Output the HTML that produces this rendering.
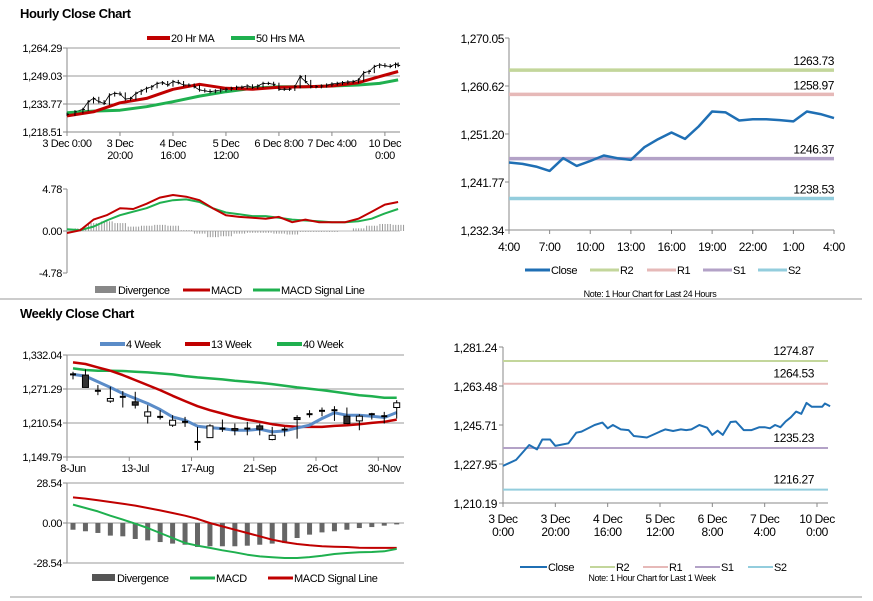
<!DOCTYPE html>
<html><head><meta charset="utf-8">
<style>
body{margin:0;background:#fff;width:873px;height:601px;overflow:hidden;font-family:"Liberation Sans",Arial,sans-serif}
svg{position:absolute;left:0;top:0}
text{font-family:"Liberation Sans",Arial,sans-serif;fill:#000;letter-spacing:-0.4px}
</style></head>
<body>
<svg id="c" width="873" height="601" viewBox="0 0 873 601"></svg>
<script>
// ---------- DATA ----------
const hcHours=[0,3,6,8,10,12,14,16,18,20,22,24,26,28,30,32,34,36,38,40,42,44,46,48,50,52,54,56,58,60,62,64,66,68,70,72,74,76,78,80,82,84,86,88,90,92,94,96,98,100,102,104,106,108,110,112,114,116,118,120,122,124,125];
const hcClose=[1228.2,1229.5,1230.8,1235,1236.8,1235,1234.1,1238.7,1239.6,1239.2,1236.5,1236.8,1239.6,1240.9,1242.3,1243.2,1245,1245.4,1244.1,1246,1245.4,1244.1,1244.1,1243.2,1241.4,1240.9,1240.5,1240.9,1241.4,1241.8,1242.3,1242.9,1242.9,1243.6,1242.9,1243.6,1245,1245,1244.5,1241.8,1241.8,1241.8,1243.2,1248.7,1246,1243.2,1243.2,1243.6,1244.1,1244.7,1245,1245.4,1245.8,1246,1246.9,1250.9,1251.5,1254.2,1255.1,1254.6,1254.2,1255.5,1254.8];
const maHours=[0,10,20,30,40,50,60,70,80,90,100,110,118,125];
const ma20=[1227.3,1229.5,1234.4,1236.8,1241.8,1244.5,1242.3,1241.8,1242.9,1243.2,1243.6,1245.4,1248.7,1251.5];
const ma50=[1229,1229.9,1230.4,1232.3,1235,1238.1,1240.5,1242.3,1243.2,1243.2,1243.6,1244.1,1245,1246.9];
const hTickLabels=[["3 Dec 0:00"],["3 Dec","20:00"],["4 Dec","16:00"],["5 Dec","12:00"],["6 Dec 8:00"],["7 Dec 4:00"],["10 Dec","0:00"]];
const hTickHours=[0,20,40,60,80,100,120];
const macdHours=[0,5,10,15,20,25,30,35,40,45,50,55,60,65,70,75,80,85,90,95,100,105,110,115,120,125];
const hMacd=[-0.23,0.08,1.3,1.8,2.6,2.5,3.1,3.8,4.1,3.9,3.5,2.6,1.8,1.6,1.5,1.4,1.6,1.0,1.3,1.0,1.0,1.0,1.4,2.2,3.0,3.3];
const hSignal=[0.2,0.1,0.5,1.2,1.8,2.2,2.6,3.2,3.5,3.6,3.3,2.6,2.1,1.9,1.7,1.7,1.5,1.3,1.2,1.1,1.0,1.0,1.1,1.4,2.0,2.5];
const hDiv=[0,0.3,0.9,1.1,0.9,0.5,0.6,0.7,0.6,0.1,-0.3,-0.7,-0.6,-0.3,-0.2,-0.2,-0.3,-0.4,-0.1,-0.1,-0.1,0,0.3,0.6,0.8,0.7];
const wLabels=["8-Jun","13-Jul","17-Aug","21-Sep","26-Oct","30-Nov"];
const wLabelIdx=[0,5,10,15,20,25];
const wOpen=[1297.4,1296.2,1268.1,1249.6,1257.3,1248.4,1222.7,1221.5,1206.6,1212.6,1176.7,1184.4,1200.6,1200.6,1200.6,1205.4,1181,1198.8,1220.3,1226.3,1232.3,1233.4,1222.7,1214.3,1226.3,1222.7,1238.2];
const wClose=[1297.4,1274.1,1268.1,1254.3,1257.3,1242.4,1230.4,1221.5,1215.5,1212.6,1176.7,1205.4,1200.6,1197.6,1200.6,1199.4,1188.6,1198.8,1216.7,1226.3,1232.3,1233.4,1209.5,1222.7,1226.3,1222.7,1246.6];
const wHigh=[1302.2,1306.4,1278.3,1275.3,1267.5,1266.3,1242.4,1233.4,1224.5,1221.5,1203.6,1208.4,1216.7,1209.5,1212.6,1209.5,1203.6,1203.6,1224.5,1233.4,1238.2,1240.6,1238.2,1226.3,1228.7,1230.4,1251.4];
const wLow=[1288.4,1274.1,1260.3,1246.6,1238.2,1236.4,1209.5,1216.7,1203.6,1203.6,1161.8,1184.4,1194.6,1188.6,1188.6,1188.6,1179.6,1186.8,1182.6,1220.3,1222.7,1214.3,1209.5,1197.6,1216.7,1209.5,1218.5];
const wMA4=[1297.4,1294.4,1284.2,1274.1,1263.3,1254.3,1245.4,1234.6,1221.5,1215.5,1204.8,1202.4,1200.6,1197.6,1197.6,1199.4,1194.6,1196.4,1201.8,1206.6,1218.5,1228.7,1224.5,1224.5,1222.7,1220.3,1229.3];
const wMA13=[1318.9,1315.9,1309.9,1304,1296.2,1287.2,1278.2,1269.3,1259.1,1249.6,1240.6,1233.4,1227.5,1221.5,1216.7,1212.6,1208.4,1205.4,1203.6,1203.6,1203.6,1205.4,1206.6,1208.4,1210.7,1212.6,1216.7];
const wMA40=[1308.1,1305.2,1304,1304,1303.4,1302.2,1301,1299.2,1297.4,1294.4,1292,1290.2,1288.4,1286,1284.2,1282.4,1280,1277.1,1274.1,1271.7,1269.3,1266.3,1263.3,1260.3,1258.5,1255.5,1255.5];
const wMacd=[13.1,10.7,8.3,5.2,2.4,-0.5,-3.6,-7.1,-10.7,-14.3,-16.2,-17.8,-19.5,-20.9,-22.6,-23.8,-24.5,-25,-25,-24.3,-23.3,-22.1,-21.4,-20.9,-20.7,-20.2,-18.5];
const wSignal=[18.3,17.4,16.2,15,13.8,12.4,10.7,9,7.1,5.2,2.9,0,-2.4,-4.8,-7.1,-9.5,-11.9,-13.6,-15,-15.9,-16.6,-16.9,-17.1,-17.6,-17.8,-17.8,-17.8];
const wDiv=[-4.8,-5.9,-7.1,-9,-9.5,-11.4,-12.4,-13.6,-14.7,-15.5,-17.1,-16.6,-16.6,-16.6,-16.2,-15.5,-14.7,-14.3,-10.7,-8.3,-6.7,-5.9,-4.8,-3.6,-2.9,-1.9,-1];
const rtLabels=["4:00","7:00","10:00","13:00","16:00","19:00","22:00","1:00","4:00"];
const rtClose=[1245.59,1245.33,1244.8,1243.95,1246.44,1244.93,1245.9,1246.97,1246.44,1246.1,1248.6,1250.18,1251.49,1250.24,1252.67,1255.62,1255.43,1253.85,1254.11,1254.11,1253.92,1253.66,1255.62,1255.1,1254.31];
const rtLevelNames=["R2","R1","S1","S2"];
const rtLevels=[1263.73,1258.97,1246.37,1238.53];
const rbHours=[0,5,10,13,15,18,20,25,28,30,35,38,40,42,45,48,50,55,60,62,65,68,70,72,75,78,80,82,84,87,89,92,95,98,100,102,104,106,108,110,112,114,116,118,120,122,123,125];
const rbClose=[1227.1,1229.8,1236.6,1234.6,1239.1,1239.1,1236.2,1237.4,1242.2,1242.7,1245.7,1246.8,1244.2,1245.7,1243.7,1243.4,1240.7,1240,1242.7,1243.7,1243,1243.7,1243.4,1243.7,1245.7,1244.5,1241.2,1243.1,1241.2,1247.1,1247.3,1243.4,1243.4,1244.7,1244.7,1244.2,1245.7,1244.7,1247.3,1249.2,1251.8,1250.8,1255.8,1254,1254,1254,1255.5,1254.3];
const rbLevels=[1274.87,1264.53,1235.23,1216.27];
const rbTickLabels=[["3 Dec","0:00"],["3 Dec","20:00"],["4 Dec","16:00"],["5 Dec","12:00"],["6 Dec","8:00"],["7 Dec","4:00"],["10 Dec","0:00"]];
const levelColors=["#c3d69b","#e6b9b8","#b3a2c7","#93cddd"];

// ---------- HELPERS ----------
const svg=document.getElementById('c');
const NS='http://www.w3.org/2000/svg';
function el(tag,attrs,parent){const e=document.createElementNS(NS,tag);for(const k in attrs)e.setAttribute(k,attrs[k]);(parent||svg).appendChild(e);return e;}
function grp(name){const g=el('g',{});return g;}
function scale(d0,d1,r0,r1){return v=>r0+(v-d0)*(r1-r0)/(d1-d0);}
function txt(g,x,y,s,anchor,size,name,weight){const t=el('text',{x:x,y:y,'font-size':size||11,'text-anchor':anchor||'start','font-weight':weight||'normal'},g);t.textContent=s;


return t;}
function poly(g,xs,ys,color,w,name){const d=xs.map((x,i)=>(i?'L':'M')+x.toFixed(1)+' '+ys[i].toFixed(1)).join('');const p=el('path',{d:d,fill:'none',stroke:color,'stroke-width':w,'stroke-linejoin':'round'},g);


return p;}
function ln(g,x1,y1,x2,y2,c,w,name){const l=el('line',{x1:x1,y1:y1,x2:x2,y2:y2,stroke:c,'stroke-width':w},g);


return l;}
function legendLine(g,x1,x2,y,color,label,w,name){ln(g,x1,y,x2,y,color,w||3,name+'-swatch');txt(g,x2+1,y+4,label,'start',11,name+'-label');}
function yAxis(g,x,ys,labels,grid,xr){ln(g,x,Math.min(...ys),x,Math.max(...ys),'#888',1,'y-axis-line');ys.forEach((y,i)=>{ln(g,x-4,y,x,y,'#888',1,'y-tick');if(grid)ln(g,x,y,xr,y,'#999',1,'gridline');txt(g,x-5,y+4,labels[i],'end',11,'y-tick-label');});}

// ---------- TITLES ----------
const tg=grp('titles');
txt(tg,20,18,'Hourly Close Chart','start',13,'hourly-title','bold');
txt(tg,20,318,'Weekly Close Chart','start',13,'weekly-title','bold');
ln(tg,0,299,862,299,'#999',1,'section-divider');
ln(tg,10,597,862,597,'#999',1,'bottom-divider');

// ---------- TOP LEFT ----------
(function(){
const g=grp('hourly-price-chart');
const x=scale(0,125.7,67,400), y=scale(1218.51,1264.29,132,48);
yAxis(g,67,[48,76,104,132],['1,264.29','1,249.03','1,233.77','1,218.51'],true,400);
ln(g,67,132,400,132,'#888',1,'x-axis-line');
hTickHours.forEach((h,i)=>{const xx=x(h);ln(g,xx,132,xx,136,'#888',1,'x-tick');hTickLabels[i].forEach((s,j)=>txt(g,xx,147+j*12,s,'middle',11,'x-tick-label'));});
const cg=grp('hourly-candles');
hcHours.forEach((h,i)=>{const xx=x(h);const v=hcClose[i];const prev=i?hcClose[i-1]:v;
ln(cg,xx,y(Math.max(v,prev)+0.9),xx,y(Math.min(v,prev)-0.9),'#000',1,'candle-wick');
ln(cg,xx,y(v),xx+2,y(v),'#000',1,'candle-close');});
poly(g,hcHours.map(x),hcClose.map(y),'#000',0.8,'hourly-close-line');
poly(g,maHours.map(x),ma50.map(y),'#1fb04f',3,'ma50-line');
poly(g,maHours.map(x),ma20.map(y),'#c00000',3,'ma20-line');
const lg=grp('hourly-legend');
legendLine(lg,147,170,38,'#c00000','20 Hr MA',4,'legend-ma20');
legendLine(lg,231,255,38,'#1fb04f','50 Hrs MA',4,'legend-ma50');
})();

(function(){
const g=grp('hourly-macd-chart');
const x=scale(0,125.7,67,400), y=scale(-4.78,4.78,273,189);
yAxis(g,67,[189,231,273],['4.78','0.00','-4.78'],false,400);
ln(g,67,231,400,231,'#bbb',1,'zero-line');
macdHours.forEach((h,i)=>{const y0=y(0),y1=y(hDiv[i]);
for(let k=0;k<5;k++){ln(g,x(h)+k*2.6-5,Math.min(y0,y1),x(h)+k*2.6-5,Math.max(y0,y1),'#999',1,'divergence-bar');}});
poly(g,macdHours.map(x),hSignal.map(y),'#1fb04f',2,'macd-signal-line');
poly(g,macdHours.map(x),hMacd.map(y),'#c00000',2,'macd-line');
const lg=grp('hourly-macd-legend');
const r=el('rect',{x:95,y:286,width:21,height:7,fill:'#888'},lg);


txt(lg,118,294,'Divergence','start',11,'legend-divergence-label');
legendLine(lg,183,210,290,'#c00000','MACD',3,'legend-macd');
legendLine(lg,253,280,290,'#1fb04f','MACD Signal Line',3,'legend-signal');
})();

// ---------- WEEKLY ----------
(function(){
const g=grp('weekly-price-chart');
const x=i=>73+i*12.45, y=scale(1149.79,1332.04,457,355);
yAxis(g,67,[355,389,423,457],['1,332.04','1,271.29','1,210.54','1,149.79'],true,404);
ln(g,67,457,404,457,'#888',1,'x-axis-line');
wLabels.forEach((s,i)=>{const xx=x(wLabelIdx[i]);ln(g,xx-6,457,xx-6,461,'#888',1,'x-tick');txt(g,xx,472,s,'middle',11,'x-tick-label');});
const cg=grp('weekly-candles');
wOpen.forEach((o,i)=>{const c=wClose[i],xx=x(i);
ln(cg,xx,y(wHigh[i]),xx,y(wLow[i]),'#000',1,'candle-wick');
const top=y(Math.max(o,c)),bot=y(Math.min(o,c));
if(bot-top<1.5){ln(cg,xx-3,top,xx+3,top,'#000',2,'candle-doji');}
else{const r=el('rect',{x:xx-3,y:top,width:6,height:bot-top,fill:c<o?'#333':'#fff',stroke:'#000','stroke-width':1},cg);

}});
const idx=wMA4.map((_,i)=>x(i));
poly(g,idx,wMA40.map(y),'#1fb04f',2.5,'ma40-line');
poly(g,idx,wMA13.map(y),'#c00000',2.5,'ma13-line');
poly(g,idx,wMA4.map(y),'#5b8cc8',3,'ma4-line');
const lg=grp('weekly-legend');
legendLine(lg,100,125,344,'#5b8cc8','4 Week',4,'legend-4week');
legendLine(lg,185,210,344,'#c00000','13 Week',4,'legend-13week');
legendLine(lg,277,302,344,'#1fb04f','40 Week',4,'legend-40week');
})();

(function(){
const g=grp('weekly-macd-chart');
const x=i=>73+i*12.45, y=scale(-28.54,28.54,563,483);
yAxis(g,67,[483,523,563],['28.54','0.00','-28.54'],true,404);
wDiv.forEach((v,i)=>{const r=el('rect',{x:x(i)-2.5,y:y(0),width:5,height:y(v)-y(0),fill:'#666'},g);

});
const idx=wMacd.map((_,i)=>x(i));
poly(g,idx,wSignal.map(y),'#c00000',2,'signal-line');
poly(g,idx,wMacd.map(y),'#1fb04f',2,'macd-line');
const lg=grp('weekly-macd-legend');
const r=el('rect',{x:92,y:574,width:23,height:7,fill:'#555'},lg);


txt(lg,117,582,'Divergence','start',11,'legend-divergence-label');
legendLine(lg,190,215,578,'#1fb04f','MACD',3,'legend-macd');
legendLine(lg,268,293,578,'#c00000','MACD Signal Line',3,'legend-signal');
})();

// ---------- RIGHT TOP ----------
(function(){
const g=grp('last-24h-chart');
const x=scale(0,24,509,834), y=scale(1232.34,1270.05,230,38);
ln(g,509,38,509,230,'#888',1,'y-axis-line');ln(g,509,230,834,230,'#888',1,'x-axis-line');
[1270.05,1260.62,1251.20,1241.77,1232.34].forEach((v,i)=>{ln(g,505,y(v),509,y(v),'#888',1,'y-tick');txt(g,504,y(v)+5,['1,270.05','1,260.62','1,251.20','1,241.77','1,232.34'][i],'end',12,'y-tick-label');});
rtLabels.forEach((s,i)=>{const xx=x(i*3);ln(g,xx,230,xx,234,'#888',1,'x-tick');txt(g,xx,251,s,'middle',12,'x-tick-label');});
rtLevels.forEach((v,i)=>{ln(g,509,y(v),834,y(v),levelColors[i],3.5,'level-'+rtLevelNames[i].toLowerCase());txt(g,834,y(v)-5,v.toFixed(2),'end',12,'level-label');});
poly(g,rtClose.map((_,i)=>x(i)),rtClose.map(y),'#1f6fb4',2.5,'close-line');
const lg=grp('last-24h-legend');
legendLine(lg,525,550,270,'#1f6fb4','Close',3,'legend-close');
const lx=[590,647,703,758];
rtLevelNames.forEach((n,i)=>legendLine(lg,lx[i],lx[i]+29,270,levelColors[i],n,3,'legend-'+n.toLowerCase()));
txt(lg,650,297,'Note: 1 Hour Chart for Last 24 Hours','middle',9,'note-24h');
})();

// ---------- RIGHT BOTTOM ----------
(function(){
const g=grp('last-week-chart');
const x=scale(0,120,503,817), y=scale(1210.19,1281.24,503,347);
ln(g,503,347,503,503,'#888',1,'y-axis-line');ln(g,503,503,828,503,'#888',1,'x-axis-line');
[1281.24,1263.48,1245.71,1227.95,1210.19].forEach((v,i)=>{ln(g,499,y(v),503,y(v),'#888',1,'y-tick');txt(g,497,y(v)+5,['1,281.24','1,263.48','1,245.71','1,227.95','1,210.19'][i],'end',12,'y-tick-label');});
rbTickLabels.forEach((s,i)=>{const xx=x(i*20);ln(g,xx,503,xx,507,'#888',1,'x-tick');s.forEach((t,j)=>txt(g,xx,523+j*13,t,'middle',12,'x-tick-label'));});
rbLevels.forEach((v,i)=>{ln(g,503,y(v),828,y(v),levelColors[i],2,'level-'+rtLevelNames[i].toLowerCase());txt(g,814,y(v)-6,v.toFixed(2),'end',12,'level-label');});
poly(g,rbHours.map(x),rbClose.map(y),'#1f6fb4',2,'close-line');
const lg=grp('last-week-legend');
legendLine(lg,520,547,567,'#1f6fb4','Close',2,'legend-close');
const lx=[590,643,695,748];
rtLevelNames.forEach((n,i)=>legendLine(lg,lx[i],lx[i]+25,567,levelColors[i],n,2,'legend-'+n.toLowerCase()));
txt(lg,652,581,'Note: 1 Hour Chart for Last 1 Week','middle',9,'note-week');
})();
</script>
</body></html>
